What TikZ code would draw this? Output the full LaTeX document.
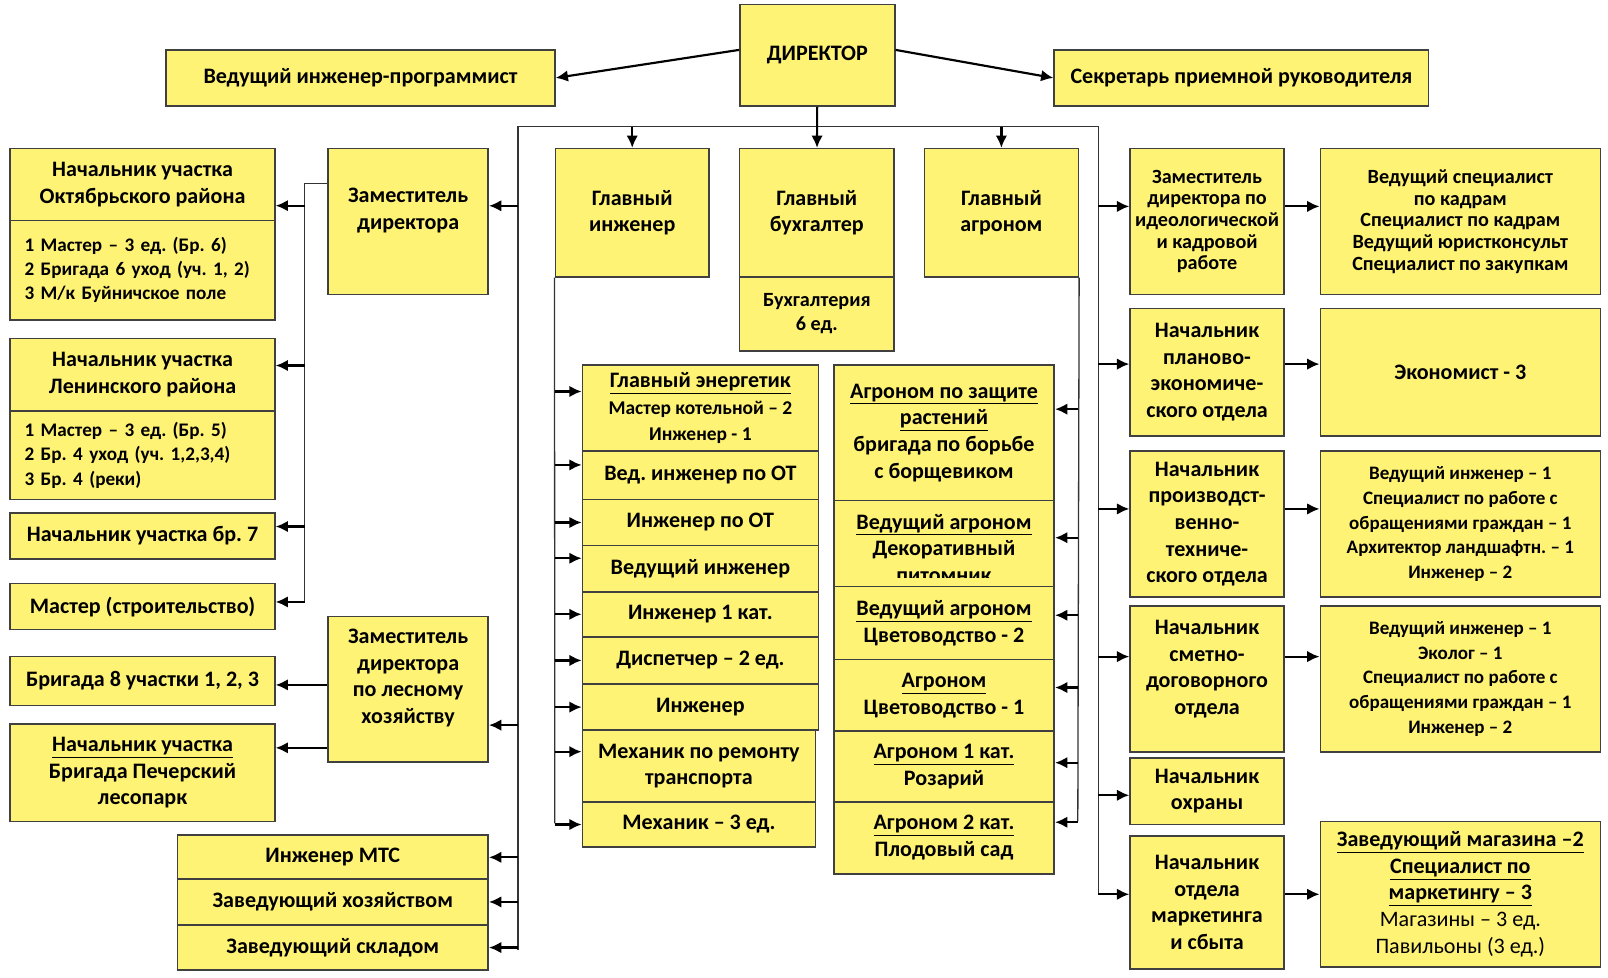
\documentclass[tikz,border=0pt]{standalone}
\usepackage{fontspec}
\setmainfont{Carlito}
\usetikzlibrary{arrows.meta}
\definecolor{boxyellow}{RGB}{255,243,118}
\frenchspacing

\begin{document}
\begin{tikzpicture}
  [x=0.025cm,y=-0.025cm,
   every node/.style={draw=black!75,line width=1.1pt,fill=boxyellow,align=center,inner sep=2pt,font=\bfseries\fontsize{15.3}{18.5}\selectfont},
   left/.style={minimum width=6.45cm},
   head/.style={minimum width=3.75cm},
   list/.style={minimum width=6.825cm},
   enrow/.style={minimum width=5.75cm},
   agrow/.style={minimum width=5.375cm},
   sm/.style={font=\bfseries\fontsize{14}{15}\selectfont},
   mid/.style={font=\bfseries\fontsize{13.2}{17.2}\selectfont},
   lst/.style={align=left,text width=5.75cm,inner xsep=0.35cm,font=\bfseries\fontsize{13.3}{16.7}\selectfont},
   bus/.style={draw=black!80,line width=0.9pt},
   arr/.style={-{Latex[length=3mm,width=2.8mm]},line width=1.5pt}]
  \useasboundingbox (0,0) rectangle (1568,953);

  \node[minimum width=3.775cm,minimum height=2.475cm] (dir) at (797,54) {ДИРЕКТОР};
  \node[minimum width=9.475cm,minimum height=1.375cm] (prog) at (351.5,76) {Ведущий инженер-программист};
  \node[minimum width=9.125cm,minimum height=1.375cm] (sec) at (1210.5,76) {Секретарь приемной руководителя};

  \node[minimum width=3.9cm,minimum height=3.55cm] (zam1) at (398,216) {Заместитель\\директора\rule[-18pt]{0pt}{1pt}};
  \node[head,minimum height=3.125cm] (eng) at (616.5,207.5) {Главный\\инженер};
  \node[minimum width=3.775cm,minimum height=3.125cm] (buh) at (796.5,207.5) {Главный\\бухгалтер};
  \node[minimum width=3.775cm,minimum height=1.8cm,font=\bfseries\fontsize{14}{17}\selectfont] (buhl) at (796.5,306) {Бухгалтерия\\6 ед.};
  \node[head,minimum height=3.125cm] (agr) at (976.5,207.5) {Главный\\агроном};
  \node[head,minimum height=3.55cm,sm] (zid) at (1177,216) {Заместитель\\директора по\\идеологической\\и кадровой\\работе};
  \node[list,minimum height=3.55cm,sm] (kadr) at (1424,216) {Ведущий специалист\\по кадрам\\Специалист по кадрам\\Ведущий юристконсульт\\Специалист по закупкам};

  \node[left,minimum height=1.75cm] (octT) at (139,180) {Начальник участка\\Октябрьского района};
  \node[left,minimum height=2.425cm,lst] (octL) at (139,263.5) {1 Мастер – 3 ед. (Бр. 6)\\2 Бригада 6 уход (уч. 1, 2)\\3 М/к Буйничское поле};
  \node[left,minimum height=1.775cm] (lenT) at (139,365.5) {Начальник участка\\Ленинского района};
  \node[left,minimum height=2.15cm,lst] (lenL) at (139,444) {1 Мастер – 3 ед. (Бр. 5)\\2 Бр. 4 уход (уч. 1,2,3,4)\\3 Бр. 4 (реки)};
  \node[left,minimum height=1.125cm] (br7) at (139,522.5) {Начальник участка бр. 7};
  \node[left,minimum height=1.125cm] (mast) at (139,591.5) {Мастер (строительство)};
  \node[minimum width=3.9cm,minimum height=3.55cm] (zam2) at (398,672) {Заместитель\\директора\\по лесному\\хозяйству\rule[-18pt]{0pt}{1pt}};
  \node[left,minimum height=1.2cm] (br8) at (139,664) {Бригада 8 участки 1, 2, 3};
  \node[left,minimum height=2.375cm] (pech) at (139,753.5) {\underline{Начальник участка}\\Бригада Печерский\\лесопарк};
  \node[minimum width=7.575cm,minimum height=1.075cm] (mts) at (324.5,836) {Инженер МТС};
  \node[minimum width=7.575cm,minimum height=1.125cm] (hoz) at (324.5,879.5) {Заведующий хозяйством};
  \node[minimum width=7.575cm,minimum height=1.1cm] (skl) at (324.5,924) {Заведующий складом};

  \node[enrow,minimum height=2.1cm] (en1) at (683,398) {\underline{Главный энергетик}\\\fontsize{13.5}{17}\selectfont Мастер котельной – 2\\\fontsize{13.5}{17}\selectfont Инженер - 1};
  \node[enrow,minimum height=1.175cm] (en2) at (683,463.5) {Вед. инженер по ОТ};
  \node[enrow,minimum height=1.125cm] (en3) at (683,509.5) {Инженер по ОТ};
  \node[enrow,minimum height=1.125cm] (en4) at (683,554.5) {Ведущий инженер};
  \node[enrow,minimum height=1.1cm] (en5) at (683,599) {Инженер 1 кат.};
  \node[enrow,minimum height=1.15cm] (en6) at (683,644) {Диспетчер – 2 ед.};
  \node[enrow,minimum height=1.125cm] (en7) at (683,689.5) {Инженер};
  \node[minimum width=5.675cm,minimum height=1.75cm] (en8) at (681.5,747) {Механик по ремонту\\транспорта};
  \node[minimum width=5.675cm,minimum height=1.1cm] (en9) at (681.5,804) {Механик – 3 ед.};

  \node[agrow,minimum height=3.3cm] (ag1) at (920.5,422) {\underline{Агроном по защите}\\\underline{растений}\\бригада по борьбе\\с борщевиком};
  \node[agrow,minimum height=2.1cm] (ag2) at (920.5,530) {\rule{0pt}{17pt}\underline{Ведущий агроном}\\Декоративный\\питомник};
  \fill[boxyellow] ([shift={(0.04cm,0cm)}]ag2.south west) rectangle ([shift={(-0.04cm,0.24cm)}]ag2.south east);
  \node[agrow,minimum height=1.775cm] (ag3) at (920.5,607.5) {\underline{Ведущий агроном}\\Цветоводство - 2};
  \node[agrow,minimum height=1.75cm] (ag4) at (920.5,678) {\underline{Агроном}\\Цветоводство - 1};
  \node[agrow,minimum height=1.725cm] (ag5) at (920.5,747.5) {\underline{Агроном 1 кат.}\\Розарий};
  \node[agrow,minimum height=1.75cm] (ag6) at (920.5,817) {\underline{Агроном 2 кат.}\\Плодовый сад};

  \node[head,minimum height=3.1cm] (plan) at (1177,363) {Начальник\\планово-\\экономиче-\\ского отдела};
  \node[list,minimum height=3.1cm] (econ) at (1424,363) {Экономист - 3};
  \node[head,minimum height=3.55cm] (prt) at (1177,511) {Начальник\\производст-\\венно-\\техниче-\\ского отдела};
  \node[list,minimum height=3.55cm,mid] (prtl) at (1424,511) {Ведущий инженер – 1\\Специалист по работе с\\обращениями граждан – 1\\Архитектор ландшафтн. – 1\\Инженер – 2};
  \node[head,minimum height=3.55cm] (smet) at (1177,662) {Начальник\\сметно-\\договорного\\отдела\rule[-16pt]{0pt}{1pt}};
  \node[list,minimum height=3.55cm,mid] (smetl) at (1424,662) {Ведущий инженер – 1\\Эколог – 1\\Специалист по работе с\\обращениями граждан – 1\\Инженер – 2};
  \node[head,minimum height=1.625cm] (ohr) at (1177,771.5) {Начальник\\охраны};
  \node[head,minimum height=3.25cm] (mark) at (1177,880) {Начальник\\отдела\\маркетинга\\и сбыта};
  \node[list,minimum height=3.55cm] (mag) at (1424,872) {\underline{Заведующий магазина –2}\\\underline{Специалист по}\\\underline{маркетингу – 3}\\\mdseries Магазины – 3 ед.\\\mdseries Павильоны (3 ед.)};

  \coordinate (tl) at (505,123.5);
  \coordinate (tr) at (1071,123.5);
  \coordinate (bl) at (505,926);
  \coordinate (br) at (1071,872);
  \coordinate (el) at (541,803);
  \coordinate (ar) at (1051,801);
  \coordinate (zb) at (297,586);

  \draw[bus] (bl) -- (tl) -- (tr) -- (br);
  \draw[bus] (eng.south west) -- (el);
  \draw[bus] (agr.south east) -- (ar);
  \draw[bus] (zam1.155) -| (zb);

  \draw[arr] (dir.176) -- (prog.east);
  \draw[arr] (dir.4) -- (sec.west);
  \draw[arr] (dir) -- (buh);
  \foreach \n in {eng,agr}
    \draw[arr] (tl -| \n.north) -- (\n.north);
  \foreach \n/\a in {zam1/11,zam2/-24,mts/0,hoz/0,skl/0}
    \draw[arr] (tl |- \n.\a) -- (\n.\a);
  \foreach \n/\a in {zid/169,plan/174,prt/169,smet/164,ohr/183,mark/174}
    \draw[arr] (tr |- \n.\a) -- (\n.\a);
  \foreach \n/\a/\m in {zid/11/kadr,plan/6/econ,prt/11/prtl,smet/16/smetl,mark/6/mag}
    \draw[arr] (\n.\a) -- (\n.\a -| \m.west);
  \foreach \n/\a in {en1/172,en2/175,en3/180,en4/175,en5/180,en6/180,en7/180,en8/173,en9/180}
    \draw[arr] (el |- \n.\a) -- (\n.\a);
  \foreach \n/\a in {ag1/12,ag2/3,ag3/4,ag4/4,ag5/2,ag6/8}
    \draw[arr] (ar |- \n.\a) -- (\n.\a);
  \foreach \n/\a in {octT/-9,lenT/4,br7/4,mast/2}
    \draw[arr] (zb |- \n.\a) -- (\n.\a);
  \foreach \a/\m in {177/br8,216/pech}
    \draw[arr] (zam2.\a) -- (zam2.\a -| \m.east);
\end{tikzpicture}
\end{document}
